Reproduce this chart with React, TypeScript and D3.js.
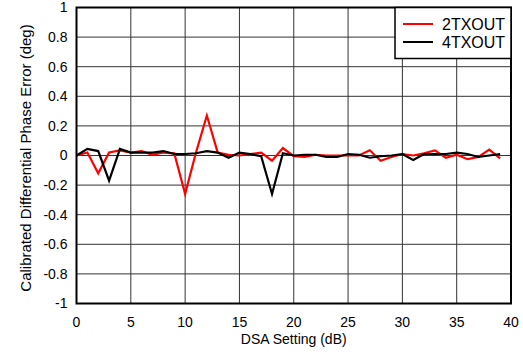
import React from "react";
import * as d3 from "d3";

const dsa = d3.range(0, 40);
const red2tx = [0, 0.02, -0.12, 0.02, 0.035, 0.02, 0.03, 0.005, 0.02, 0.015, -0.26, 0.02, 0.27, 0.02, 0.005, 0, 0.01, 0.02, -0.035, 0.05, -0.005, -0.01, 0.005, 0, 0, 0, 0, 0.035, -0.035, -0.01, 0.01, 0, 0.015, 0.035, -0.015, 0.005, -0.025, -0.01, 0.04, -0.02];
const black4tx = [0, 0.045, 0.03, -0.17, 0.045, 0.02, 0.02, 0.02, 0.03, 0.01, 0.01, 0.015, 0.03, 0.02, -0.015, 0.02, 0.01, -0.005, -0.26, 0.015, 0, 0.005, 0.005, -0.01, -0.01, 0.01, 0.005, -0.015, -0.005, 0, 0.01, -0.03, 0.01, 0.01, 0.01, 0.02, 0.01, -0.01, 0, 0.01];
const xTicks = [0, 5, 10, 15, 20, 25, 30, 35, 40];
const yTicks = [-1, -0.8, -0.6, -0.4, -0.2, 0, 0.2, 0.4, 0.6, 0.8, 1];
const seriesNames = ["2TXOUT", "4TXOUT"];
const seriesColors = ["#ff0000", "#000000"];

export default function App() {
  const W = 523, H = 352;
  const L = 76.5, R = 511, T = 7.5, B = 303.5;
  const x = d3.scaleLinear().domain([0, 40]).range([L, R]);
  const y = d3.scaleLinear().domain([-1, 1]).range([B, T]);
  const line = d3.line<number>().x((_, i) => x(dsa[i])).y((d) => y(d));
  const font = "Arial, 'Liberation Sans', sans-serif";
  const fmt = (v: number) => (Math.abs(v) < 1e-9 ? "0" : String(Math.round(v * 10) / 10));
  return (
    <svg width={W} height={H} style={{ position: "absolute", left: 0, top: 0 }} fontFamily={font}>
      <rect width={W} height={H} fill="#fff" />
      {xTicks.map((t) => (
        <line key={"gx" + t} x1={x(t)} x2={x(t)} y1={T} y2={B} stroke="#333" strokeWidth={1} />
      ))}
      {yTicks.map((t) => (
        <line key={"gy" + t} x1={L} x2={R} y1={y(t)} y2={y(t)} stroke="#333" strokeWidth={1} />
      ))}
      <path d={line(red2tx) || ""} fill="none" stroke={seriesColors[0]} strokeWidth={2.2} strokeLinejoin="miter" />
      <path d={line(black4tx) || ""} fill="none" stroke={seriesColors[1]} strokeWidth={2.2} strokeLinejoin="miter" />
      <rect x={L} y={T} width={R - L} height={B - T} fill="none" stroke="#000" strokeWidth={2} />
      {yTicks.map((t) => (
        <text key={"ty" + t} x={L - 9} y={y(t)} dy="0.35em" textAnchor="end" fontSize={14} fill="#000">
          {fmt(t)}
        </text>
      ))}
      {xTicks.map((t) => (
        <text key={"tx" + t} x={x(t)} y={B + 23.5} textAnchor="middle" fontSize={14} fill="#000">
          {t}
        </text>
      ))}
      <text x={(L + R) / 2} y={344} textAnchor="middle" fontSize={14} fill="#000">
        DSA Setting (dB)
      </text>
      <text transform={`translate(31, 158) rotate(-90)`} textAnchor="middle" fontSize={15} fill="#000">
        Calibrated Differential Phase Error (deg)
      </text>
      <g>
        <rect x={395} y={T} width={R - 395} height={51} fill="#fff" stroke="#000" strokeWidth={1.5} />
        {seriesNames.map((n, i) => (
          <g key={n}>
            <line x1={403} x2={433} y1={24 + i * 18} y2={24 + i * 18} stroke={seriesColors[i]} strokeWidth={2} />
            <text x={442} y={24 + i * 18} dy="0.35em" fontSize={16} fill="#000">
              {n}
            </text>
          </g>
        ))}
      </g>
    </svg>
  );
}
